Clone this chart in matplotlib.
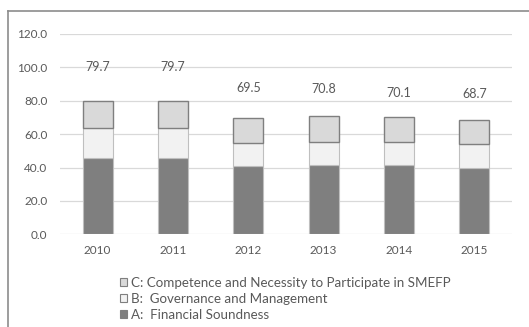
import numpy as np
import matplotlib
matplotlib.use('Agg')
from matplotlib import pyplot as plt
from matplotlib.lines import Line2D
from matplotlib.patches import Patch

plt.rcParams['font.family'] = ['Lato', 'DejaVu Sans']

years = ['2010', '2011', '2012', '2013', '2014', '2015']
score_a = [45.5, 45.5, 40.9, 41.5, 41.5, 39.5]   # Financial Soundness
score_b = [18.0, 18.0, 13.6, 13.9, 13.9, 14.4]   # Governance and Management
score_c = [16.2, 16.2, 15.0, 15.4, 14.7, 14.8]   # Competence and Necessity
totals = [79.7, 79.7, 69.5, 70.8, 70.1, 68.7]
# height of the total labels above each bar
label_gap = [20.7, 20.7, 17.9, 16.0, 14.7, 15.1]

txt = '#595959'
fig = plt.figure(figsize=(5.29, 3.27), dpi=100)
ax = fig.add_axes([60/529, 92.7/327, 452/529, 200.3/327])

x = np.arange(len(years))
w = 0.4
a = np.array(score_a)
b = np.array(score_b)
c = np.array(score_c)
ax.bar(x, a, w, color='#7f7f7f', edgecolor='#bfbfbf', linewidth=0.8, zorder=3)
ax.bar(x, b, w, bottom=a, color='#f2f2f2', edgecolor='#bfbfbf', linewidth=0.8, zorder=3)
ax.bar(x, c, w, bottom=a+b, color='#d9d9d9', edgecolor='#7f7f7f', linewidth=1.0, zorder=3)

for xi, t, g in zip(x, totals, label_gap):
    ax.text(xi, t + g, '%.1f' % t, ha='center', va='center', fontsize=9, color=txt, zorder=4)

ax.set_ylim(0, 120)
ax.set_xlim(-0.5, len(years) - 0.5)
ax.set_yticks(np.arange(0, 121, 20))
ax.set_yticklabels(['%.1f' % v for v in np.arange(0, 121, 20)])
ax.set_xticks(x)
ax.set_xticklabels(years)
ax.tick_params(length=0, labelsize=8.5, colors=txt, pad=9)
ax.tick_params(axis='x', pad=8)
ax.yaxis.grid(True, color='#d9d9d9', linewidth=0.9, zorder=0)
for s in ax.spines.values():
    s.set_visible(False)

handles = [Patch(facecolor='#d9d9d9', edgecolor='#7f7f7f', linewidth=0.8),
           Patch(facecolor='#f2f2f2', edgecolor='#7f7f7f', linewidth=0.8),
           Patch(facecolor='#7f7f7f', edgecolor='#7f7f7f', linewidth=0.8)]
labels = ['C: Competence and Necessity to Participate in SMEFP',
          'B:  Governance and Management',
          'A:  Financial Soundness']
leg = fig.legend(handles, labels, loc='upper left', bbox_to_anchor=(120/529, 1 - 277/327),
                 frameon=False, fontsize=9.6, handlelength=0.5, handleheight=0.5,
                 handletextpad=0.3, labelspacing=0.3, borderpad=0, borderaxespad=0)
for t in leg.get_texts():
    t.set_color(txt)

# chart frame (top and left edges only are visible)
fig.add_artist(Line2D([7.5/529, 1], [1 - 11/327, 1 - 11/327], color='#8c8c8c', linewidth=1.2))
fig.add_artist(Line2D([7.5/529, 7.5/529], [0, 1 - 11/327], color='#8c8c8c', linewidth=1.2))

plt.savefig('out.png', dpi=100)
